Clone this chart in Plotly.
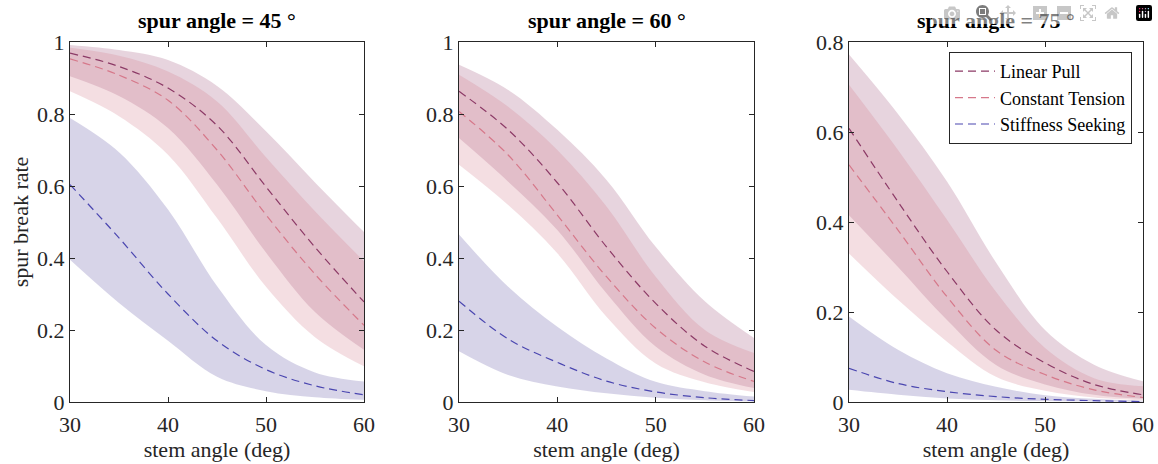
import plotly.graph_objects as go

# ---------------- data ----------------
stem_angle = [30, 35, 40, 45, 50, 55, 60]
spur_titles = ["spur angle = 45 °", "spur angle = 60 °", "spur angle = 75 °"]
series_names = ["Linear Pull", "Constant Tension", "Stiffness Seeking"]

# spur angle = 45
lp_mean_45 = [0.969, 0.932, 0.872, 0.768, 0.598, 0.430, 0.278]
lp_up_45 = [0.992, 0.978, 0.950, 0.878, 0.752, 0.610, 0.472]
lp_lo_45 = [0.905, 0.850, 0.761, 0.604, 0.415, 0.250, 0.145]
ct_mean_45 = [0.953, 0.908, 0.838, 0.700, 0.520, 0.355, 0.213]
ct_up_45 = [0.984, 0.962, 0.918, 0.835, 0.680, 0.530, 0.391]
ct_lo_45 = [0.863, 0.794, 0.687, 0.511, 0.320, 0.180, 0.099]
ss_mean_45 = [0.604, 0.456, 0.300, 0.170, 0.090, 0.045, 0.020]
ss_up_45 = [0.789, 0.694, 0.535, 0.322, 0.158, 0.082, 0.057]
ss_lo_45 = [0.395, 0.275, 0.170, 0.070, 0.030, 0.013, 0.006]

# spur angle = 60
lp_mean_60 = [0.863, 0.756, 0.609, 0.431, 0.274, 0.155, 0.085]
lp_up_60 = [0.937, 0.867, 0.756, 0.617, 0.431, 0.280, 0.178]
lp_lo_60 = [0.733, 0.612, 0.478, 0.302, 0.154, 0.076, 0.039]
ct_mean_60 = [0.807, 0.686, 0.519, 0.348, 0.205, 0.111, 0.057]
ct_up_60 = [0.909, 0.820, 0.700, 0.543, 0.348, 0.200, 0.136]
ct_lo_60 = [0.659, 0.547, 0.413, 0.237, 0.107, 0.055, 0.028]
ss_mean_60 = [0.280, 0.175, 0.110, 0.058, 0.028, 0.012, 0.004]
ss_up_60 = [0.465, 0.320, 0.209, 0.121, 0.056, 0.030, 0.015]
ss_lo_60 = [0.141, 0.075, 0.043, 0.024, 0.012, 0.005, 0.002]

# spur angle = 75
lp_mean_75 = [0.608, 0.445, 0.290, 0.160, 0.087, 0.039, 0.016]
lp_up_75 = [0.772, 0.640, 0.490, 0.310, 0.160, 0.083, 0.046]
lp_lo_75 = [0.415, 0.300, 0.182, 0.082, 0.039, 0.016, 0.007]
ct_mean_75 = [0.527, 0.382, 0.234, 0.115, 0.061, 0.027, 0.010]
ct_up_75 = [0.705, 0.560, 0.405, 0.245, 0.120, 0.053, 0.035]
ct_lo_75 = [0.330, 0.227, 0.134, 0.056, 0.025, 0.010, 0.004]
ss_mean_75 = [0.075, 0.041, 0.023, 0.012, 0.006, 0.003, 0.001]
ss_up_75 = [0.190, 0.116, 0.064, 0.034, 0.015, 0.007, 0.003]
ss_lo_75 = [0.027, 0.016, 0.008, 0.004, 0.002, 0.001, 0.0005]

y_max = [1.0, 1.0, 0.8]

panels = [
    [(lp_mean_45, lp_up_45, lp_lo_45), (ct_mean_45, ct_up_45, ct_lo_45), (ss_mean_45, ss_up_45, ss_lo_45)],
    [(lp_mean_60, lp_up_60, lp_lo_60), (ct_mean_60, ct_up_60, ct_lo_60), (ss_mean_60, ss_up_60, ss_lo_60)],
    [(lp_mean_75, lp_up_75, lp_lo_75), (ct_mean_75, ct_up_75, ct_lo_75), (ss_mean_75, ss_up_75, ss_lo_75)],
]

# ---------------- styles ----------------
band_colors = ["rgba(159,83,123,0.25)", "rgba(211,123,139,0.25)", "rgba(95,83,163,0.25)"]
line_colors = ["#8c3a66", "#d6788a", "#4a46b0"]
FONT = "Liberation Serif"
AX = "#262626"
FS = 22

# page body margin is removed (post_script below), so the figure fills the window exactly
W, H = 1158, 464
x_px = [(70, 364), (459, 754), (849, 1143)]
y_px = (42, 402)

fig = go.Figure()

for p, series in enumerate(panels):
    xa = "x" if p == 0 else f"x{p+1}"
    ya = "y" if p == 0 else f"y{p+1}"
    for s, (mean, up, lo) in enumerate(series):
        fig.add_trace(go.Scatter(x=stem_angle, y=lo, mode="lines",
                                 line=dict(width=0, shape="spline", smoothing=1.0),
                                 showlegend=False, hoverinfo="skip", xaxis=xa, yaxis=ya))
        fig.add_trace(go.Scatter(x=stem_angle, y=up, mode="lines",
                                 line=dict(width=0, shape="spline", smoothing=1.0),
                                 fill="tonexty", fillcolor=band_colors[s],
                                 showlegend=False, hoverinfo="skip", xaxis=xa, yaxis=ya))
    for s, (mean, up, lo) in enumerate(series):
        fig.add_trace(go.Scatter(x=stem_angle, y=mean, mode="lines", name=series_names[s],
                                 line=dict(color=line_colors[s], width=1.2, dash="8px,5px",
                                           shape="spline", smoothing=1.0),
                                 showlegend=(p == 2), xaxis=xa, yaxis=ya))

layout = dict(
    width=W, height=H,
    margin=dict(l=0, r=0, t=0, b=0, autoexpand=False),
    paper_bgcolor="white", plot_bgcolor="white",
    font=dict(family=FONT, size=FS, color=AX),
    legend=dict(x=1132 / W, xanchor="right", y=1 - 52 / H, yanchor="top",
                bgcolor="white", bordercolor=AX, borderwidth=1, traceorder="normal",
                font=dict(family=FONT, size=18, color="black"), tracegroupgap=0,
                itemwidth=40),
    annotations=[],
)

for p in range(3):
    xk = "xaxis" if p == 0 else f"xaxis{p+1}"
    yk = "yaxis" if p == 0 else f"yaxis{p+1}"
    x0, x1 = x_px[p]
    layout[xk] = dict(
        domain=[x0 / W, x1 / W], range=[30, 60], anchor="y" if p == 0 else f"y{p+1}",
        tickvals=[30, 40, 50, 60], ticks="inside", ticklen=5, tickcolor=AX,
        showline=True, linecolor=AX, linewidth=1, mirror="ticks",
        showgrid=False, zeroline=False, ticklabelstandoff=3, automargin=False,
        ticklabeloverflow="allow",
        tickfont=dict(family=FONT, size=FS, color=AX),
        title=dict(text="stem angle (deg)", font=dict(family=FONT, size=FS, color=AX), standoff=0),
    )
    layout[yk] = dict(
        domain=[1 - y_px[1] / H, 1 - y_px[0] / H], range=[0, y_max[p]],
        anchor="x" if p == 0 else f"x{p+1}",
        dtick=0.2, ticks="inside", ticklen=5, tickcolor=AX,
        showline=True, linecolor=AX, linewidth=1, mirror="ticks",
        showgrid=False, zeroline=False, automargin=False,
        tickfont=dict(family=FONT, size=FS, color=AX),
    )
    layout["annotations"].append(dict(
        text=f"<b>{spur_titles[p]}</b>", x=(x0 + x1) / 2 / W, y=1 - 21 / H,
        xref="paper", yref="paper", showarrow=False, xanchor="center", yanchor="middle",
        font=dict(family=FONT, size=FS, color="black")))

layout["yaxis"]["title"] = dict(text="spur break rate", font=dict(family=FONT, size=FS, color=AX), standoff=2)

fig.update_layout(**layout)
fig.write_html("out.html",
               post_script="document.body.style.margin='0px';document.body.style.overflow='hidden';")
